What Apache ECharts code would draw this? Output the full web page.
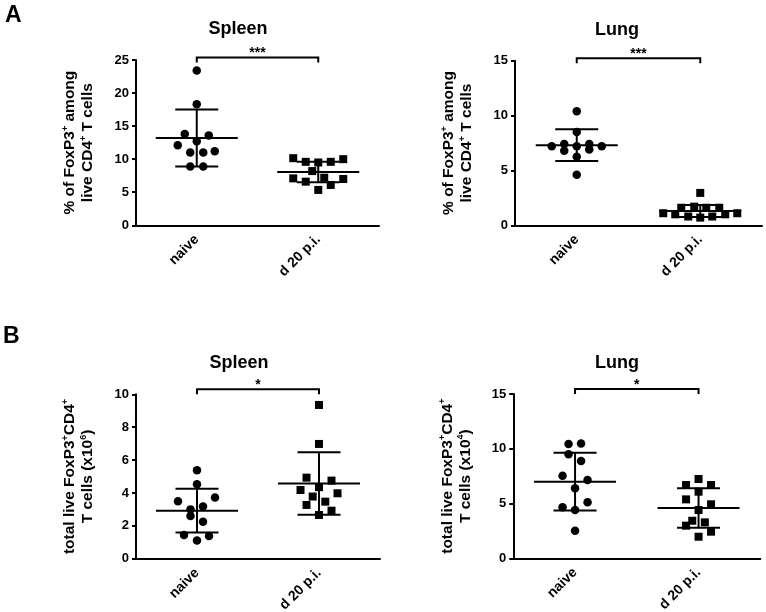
<!DOCTYPE html>
<html><head><meta charset="utf-8">
<script src="https://cdn.jsdelivr.net/npm/echarts@6/dist/echarts.min.js"></script>
<style>html,body{margin:0;padding:0;background:#fff}#c{width:766px;height:612px}</style>
</head><body><div id="c"></div>
<script>
// ---------- data ----------
const categories = ['naive', 'd 20 p.i.'];
const panelTitles = ['Spleen', 'Lung', 'Spleen', 'Lung'];
const panelLetters = ['A', 'B'];
const yMax = [25, 15, 10, 15];
const yInterval = [5, 5, 2, 5];
const sigLabels = ['***', '***', '*', '*'];

// A – % FoxP3+ among live CD4+ T cells
const aSpleenNaive = [23.4, 18.3, 13.8, 13.6, 12.7, 12.1, 11.0, 11.0, 11.2, 8.9, 8.9];
const aSpleenD20   = [10.15, 9.6, 9.5, 9.6, 10.0, 8.2, 7.2, 7.1, 7.0, 6.6, 6.1, 5.35];
const aSpleenMean  = [13.2, 8.05];
const aSpleenSD    = [4.3, 1.55];

const aLungNaive = [10.4, 8.5, 7.4, 7.4, 7.2, 7.2, 7.2, 6.8, 6.9, 6.25, 4.6];
const aLungD20   = [2.95, 1.1, 1.1, 1.0, 1.0, 1.6, 1.7, 1.6, 1.6, 0.8, 0.7, 0.8];
const aLungMean  = [7.3, 1.3];
const aLungSD    = [1.45, 0.55];

// B – total live FoxP3+CD4+ T cells
const bSpleenNaive = [5.38, 4.53, 3.49, 3.72, 3.0, 3.17, 2.6, 2.25, 1.44, 1.38, 1.1];
const bSpleenD20   = [9.35, 6.98, 4.93, 4.75, 4.35, 4.18, 3.98, 3.78, 3.47, 3.27, 2.92, 2.66];
const bSpleenMean  = [2.92, 4.58];
const bSpleenSD    = [1.33, 1.9];

const bLungNaive = [10.43, 10.49, 9.49, 8.88, 7.54, 7.14, 6.39, 5.11, 4.65, 4.41, 2.52];
const bLungD20   = [7.24, 6.69, 6.69, 6.08, 5.38, 4.93, 4.41, 3.43, 3.28, 2.98, 2.43, 1.97];
const bLungMean  = [7.0, 4.6];
const bLungSD    = [2.63, 1.8];

// ---------- styling: horizontal spread of dots (px) ----------
const spreadASpleenNaive = [0, 0, -12, 12, 0, -19, -6.5, 6.5, 18, -6.5, 6.5];
const spreadASpleenD20   = [-25, -12.5, 0, 12.5, 25, -6, 6, -25, 25, -12.5, 12.5, 0];
const spreadALungNaive   = [0, 0, -12.5, 12.5, -25, 0, 25, -12.5, 12.5, 0, 0];
const spreadALungD20     = [0, -37, 37, -25, 25, -19, -6, 6, 19, -12, 0, 12];
const spreadBSpleenNaive = [0, 0, -19, 18, -6.5, 6, -6.5, 6, -13, 12, 0];
const spreadBSpleenD20   = [0, 0, -12.5, 12.5, 0, -18.5, 18.5, -6.3, 6.3, -12.5, 12.5, 0];
const spreadBLungNaive   = [-6.5, 6, -6.5, 6, -12.5, 12.5, 0, 12.5, -12.5, 0, 0];
const spreadBLungD20     = [0, -12.5, 12.5, 0, -12.5, 12.5, 0, -6.3, 6.3, -12.5, 12.5, 0];

const FONT = '"Liberation Sans", Arial, Helvetica, sans-serif';
const yNameA = '% of FoxP3{s|+} among\nlive CD4{s|+} T cells';
const yNameB6 = 'total live FoxP3{s|+}CD4{s|+}\nT cells (x10{s|6})';
const yNameB4 = 'total live FoxP3{s|+}CD4{s|+}\nT cells (x10{s|4})';
const yNames = [yNameA, yNameA, yNameB6, yNameB4];

const panels = [
  {naive: aSpleenNaive, d20: aSpleenD20, sn: spreadASpleenNaive, sd20: spreadASpleenD20, mean: aSpleenMean, sd: aSpleenSD},
  {naive: aLungNaive, d20: aLungD20, sn: spreadALungNaive, sd20: spreadALungD20, mean: aLungMean, sd: aLungSD},
  {naive: bSpleenNaive, d20: bSpleenD20, sn: spreadBSpleenNaive, sd20: spreadBSpleenD20, mean: bSpleenMean, sd: bSpleenSD},
  {naive: bLungNaive, d20: bLungD20, sn: spreadBLungNaive, sd20: spreadBLungD20, mean: bLungMean, sd: bLungSD}
];

const grids = [
  {left: 136, top: 60, width: 243, height: 165.3, outerBoundsMode: 'none', containLabel: false},
  {left: 515, top: 60.7, width: 247, height: 164.6, outerBoundsMode: 'none', containLabel: false},
  {left: 136, top: 394.3, width: 244, height: 164.4, outerBoundsMode: 'none', containLabel: false},
  {left: 513.3, top: 394, width: 247, height: 164.3, outerBoundsMode: 'none', containLabel: false}
];
const bracketLift = [2.5, 2.5, 5, 5];

const xAxes = [], yAxes = [], series = [];
panels.forEach((p, i) => {
  xAxes.push({
    gridIndex: i, type: 'category', data: categories, boundaryGap: true,
    axisLine: {lineStyle: {color: '#000', width: 2}},
    axisTick: {alignWithLabel: true, length: 5, lineStyle: {color: '#000', width: 2}},
    axisLabel: {rotate: 45, color: '#000', fontSize: 14, fontWeight: 'bold', fontFamily: FONT, margin: 12},
    splitLine: {show: false}
  });
  yAxes.push({
    gridIndex: i, type: 'value', min: 0, max: yMax[i], interval: yInterval[i],
    axisLine: {show: true, lineStyle: {color: '#000', width: 2}},
    axisTick: {show: true, length: 4, lineStyle: {color: '#000', width: 2}},
    axisLabel: {color: '#000', fontSize: 13, fontWeight: 'bold', fontFamily: FONT, margin: 7},
    splitLine: {show: false},
    name: yNames[i], nameLocation: 'middle', nameRotate: 90, nameGap: 39,
    nameTextStyle: {color: '#000', fontSize: 15.5, fontWeight: 'bold', fontFamily: FONT, lineHeight: 18,
      rich: {s: {fontSize: 9, fontWeight: 'bold', fontFamily: FONT, color: '#000', verticalAlign: 'top', lineHeight: 10}}}
  });
  series.push({
    type: 'scatter', xAxisIndex: i, yAxisIndex: i, symbol: 'circle', symbolSize: 8.5,
    itemStyle: {color: '#000', opacity: 1}, z: 3,
    data: p.naive.map((v, k) => ({value: [0, v], symbolOffset: [p.sn[k], 0]}))
  });
  series.push({
    type: 'scatter', xAxisIndex: i, yAxisIndex: i, symbol: 'rect', symbolSize: 8,
    itemStyle: {color: '#000', opacity: 1}, z: 3,
    data: p.d20.map((v, k) => ({value: [1, v], symbolOffset: [p.sd20[k], 0]}))
  });
  series.push({
    type: 'custom', xAxisIndex: i, yAxisIndex: i, z: 4,
    data: p.mean.map((m, k) => [k, m, p.sd[k]]),
    renderItem: (params, api) => {
      const c = api.coord([api.value(0), api.value(1)]);
      const yu = api.coord([api.value(0), api.value(1) + api.value(2)])[1];
      const yl = api.coord([api.value(0), api.value(1) - api.value(2)])[1];
      const x = c[0], ym = c[1];
      const st = {stroke: '#000', lineWidth: 2, fill: null};
      return {type: 'group', children: [
        {type: 'line', shape: {x1: x - 41, y1: ym, x2: x + 41, y2: ym}, style: st},
        {type: 'line', shape: {x1: x, y1: yu, x2: x, y2: yl}, style: st},
        {type: 'line', shape: {x1: x - 21.5, y1: yu, x2: x + 21.5, y2: yu}, style: st},
        {type: 'line', shape: {x1: x - 21.5, y1: yl, x2: x + 21.5, y2: yl}, style: st}
      ]};
    }
  });
  series.push({
    type: 'custom', xAxisIndex: i, yAxisIndex: i, z: 4, clip: false,
    data: [[0, 1, yMax[i]]],
    renderItem: (params, api) => {
      const p0 = api.coord([0, api.value(2)]);
      const p1 = api.coord([1, api.value(2)]);
      const y = p0[1] - bracketLift[i];
      const st = {stroke: '#000', lineWidth: 2, fill: null};
      return {type: 'group', children: [
        {type: 'polyline', shape: {points: [[p0[0], y + 5], [p0[0], y], [p1[0], y], [p1[0], y + 5]]}, style: st},
        {type: 'text', x: (p0[0] + p1[0]) / 2, y: y - 4,
          style: {text: sigLabels[i], textAlign: 'center', textVerticalAlign: 'middle',
            font: 'bold 14px ' + FONT, fill: '#000'}}
      ]};
    }
  });
});

const graphics = [
  {type: 'text', x: 5, y: 16, style: {text: panelLetters[0], font: 'bold 23px ' + FONT, fill: '#000', textVerticalAlign: 'middle'}},
  {type: 'text', x: 3, y: 337, style: {text: panelLetters[1], font: 'bold 23px ' + FONT, fill: '#000', textVerticalAlign: 'middle'}},
  {type: 'text', x: 238, y: 29.5, style: {text: panelTitles[0], font: 'bold 18px ' + FONT, fill: '#000', textAlign: 'center', textVerticalAlign: 'middle'}},
  {type: 'text', x: 617, y: 30.5, style: {text: panelTitles[1], font: 'bold 18px ' + FONT, fill: '#000', textAlign: 'center', textVerticalAlign: 'middle'}},
  {type: 'text', x: 239, y: 362.7, style: {text: panelTitles[2], font: 'bold 18px ' + FONT, fill: '#000', textAlign: 'center', textVerticalAlign: 'middle'}},
  {type: 'text', x: 617, y: 362.7, style: {text: panelTitles[3], font: 'bold 18px ' + FONT, fill: '#000', textAlign: 'center', textVerticalAlign: 'middle'}}
];

const chart = echarts.init(document.getElementById('c'), null, {renderer: 'canvas'});
chart.setOption({
  animation: false,
  backgroundColor: '#fff',
  grid: grids,
  xAxis: xAxes,
  yAxis: yAxes,
  series: series,
  graphic: graphics
});
</script></body></html>
